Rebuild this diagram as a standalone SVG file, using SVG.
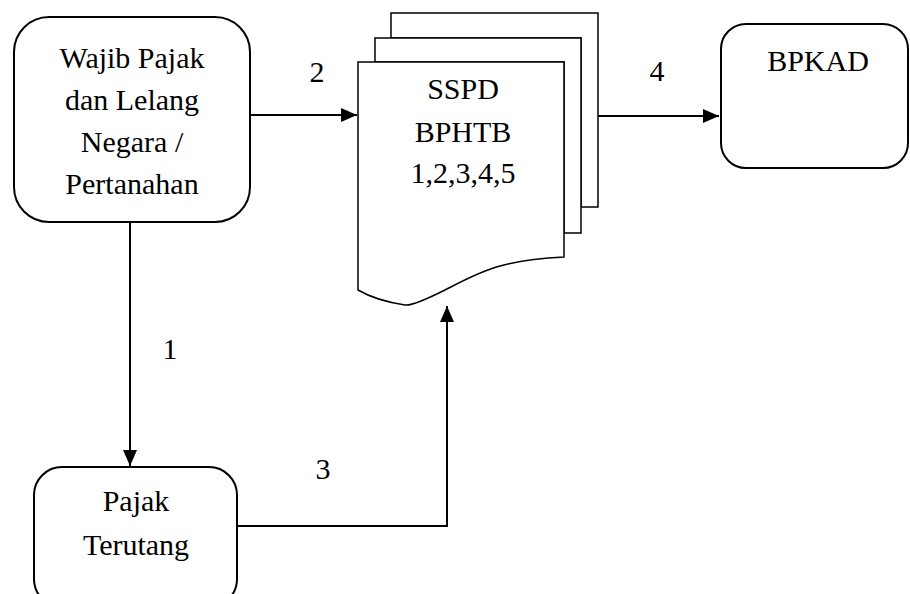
<svg xmlns="http://www.w3.org/2000/svg" width="910" height="594" viewBox="0 0 910 594">
<style>
.box{fill:#fff;stroke:#000;stroke-width:2}
.doc{fill:#fff;stroke:#000;stroke-width:1.5}
.line{fill:none;stroke:#000;stroke-width:2}
.t{font-family:'Liberation Serif','Times New Roman',Tinos,'DejaVu Serif',serif;font-size:30px;fill:#000;text-anchor:middle}
</style>
<defs>
<marker id="arr" viewBox="0 0 16 14" refX="16" refY="7" markerWidth="16" markerHeight="14" markerUnits="userSpaceOnUse" orient="auto">
<path d="M0,0 L16,7 L0,14 Z" fill="#000"/>
</marker>
</defs>
<g id="connectors">
<line class="line" x1="250" y1="115" x2="357" y2="115" marker-end="url(#arr)"/>
<line class="line" x1="598" y1="116" x2="719" y2="116" marker-end="url(#arr)"/>
<line class="line" x1="130" y1="222" x2="130" y2="466" marker-end="url(#arr)"/>
<polyline class="line" points="237,526 447,526 447,306" marker-end="url(#arr)"/>
<text class="t" x="170" y="359">1</text>
<text class="t" x="317" y="82">2</text>
<text class="t" x="323" y="479">3</text>
<text class="t" x="657" y="81">4</text>
</g>
<g id="wajib">
<rect class="box" x="14" y="17" width="236" height="205" rx="35" ry="35"/>
<text class="t" x="132" y="68">Wajib Pajak</text>
<text class="t" x="132" y="110">dan Lelang</text>
<text class="t" x="132" y="152">Negara /</text>
<text class="t" x="132" y="194">Pertanahan</text>
</g>
<g id="sspd">
<path class="doc" d="M391,13 H598 V207 H581 V38 H391 Z"/>
<path class="doc" d="M375,38 H581 V233 H564 V62 H375 Z"/>
<path class="doc" d="M358,62 H564 V257 C500,260 480,272 445,290 C425,300 410,306 405,305 C385,302 370,297 358,290 Z"/>
<text class="t" x="463" y="99">SSPD</text>
<text class="t" x="463" y="142">BPHTB</text>
<text class="t" x="463" y="183">1,2,3,4,5</text>
</g>
<g id="bpkad">
<rect class="box" x="721" y="24" width="187" height="144" rx="25" ry="25"/>
<text class="t" x="818" y="71">BPKAD</text>
</g>
<g id="pajak">
<rect class="box" x="34" y="467" width="203" height="140" rx="28" ry="28"/>
<text class="t" x="136" y="511">Pajak</text>
<text class="t" x="136" y="555">Terutang</text>
</g>
</svg>
